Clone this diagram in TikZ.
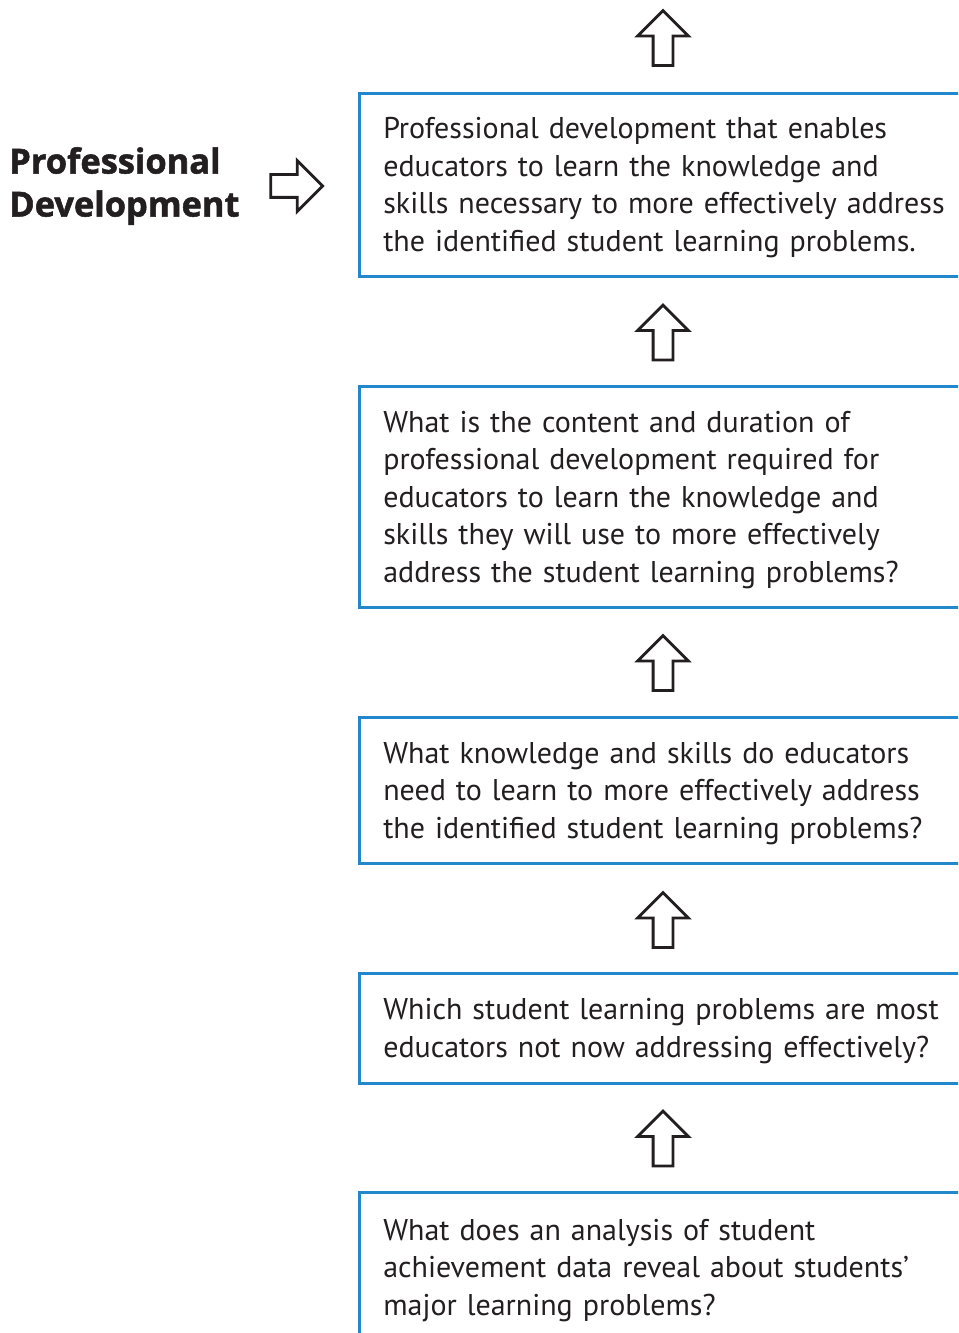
\documentclass[tikz,border=0pt]{standalone}
\usepackage{fontspec}
\setmainfont{PT Sans}
\newfontfamily\titlefont{Open Sans}[BoldFeatures={FakeBold=1.5}]
\usetikzlibrary{shapes.arrows}
\definecolor{boxblue}{RGB}{35,136,203}
\definecolor{ink}{RGB}{35,31,32}
\begin{document}
\begin{tikzpicture}[x=0.75pt,y=-0.75pt,
  stepbox/.style={draw=boxblue, line width=1.9pt, anchor=north west,
    inner sep=0pt, minimum width=468.75pt},
  steptext/.style={anchor=west, xshift=18.75pt, yshift=-2.25pt,
    inner sep=0pt, text width=431.25pt, align=left,
    font=\fontsize{22.5}{28.125}\selectfont, text=ink},
  uparr/.style={single arrow, draw=ink, line width=2.1pt, shape border rotate=90,
    inner sep=6.375pt, single arrow head extend=11.6pt, minimum height=41.25pt,
    single arrow head indent=0pt},
  rightarr/.style={single arrow, draw=ink, line width=2.1pt,
    inner sep=7.5pt, single arrow head extend=10.5pt, minimum height=39pt,
    single arrow head indent=0pt},
  titletext/.style={anchor=west, align=left, inner sep=0pt, text=ink,
    font=\titlefont\bfseries\fontsize{25.8}{32.25}\selectfont}]
\useasboundingbox (0,0) rectangle (958,1333);
\fill[white] (0,0) rectangle (958,1333);
\clip (0,0) rectangle (958,1333);

\node[titletext] (title) at (9,186) {Professional\\Development};
\node[rightarr] (ra) at (291,186) {};

\node[uparr] (a0) at (663,43) {};
\node[stepbox, minimum height=137.25pt] (b1) at (358,92) {};
\node[steptext] (t1) at (b1.west)
  {Professional development that enables\\ educators to learn the knowledge and\\ skills necessary to more effectively address\\ the identified student learning problems.};
\node[uparr] (a1) at (663,337.5) {};
\node[stepbox, minimum height=165.75pt] (b2) at (358,385) {};
\node[steptext] (t2) at (b2.west)
  {What is the content and duration of\\ professional development required for\\ educators to learn the knowledge and\\ skills they will use to more effectively\\ address the student learning problems?};
\node[uparr] (a2) at (663,668) {};
\node[stepbox, minimum height=109.5pt] (b3) at (358,716) {};
\node[steptext] (t3) at (b3.west)
  {What knowledge and skills do educators\\ need to learn to more effectively address\\ the identified student learning problems?};
\node[uparr] (a3) at (663,925) {};
\node[stepbox, minimum height=82.5pt] (b4) at (358,972) {};
\node[steptext] (t4) at (b4.west)
  {Which student learning problems are most\\ educators not now addressing effectively?};
\node[uparr] (a4) at (663,1143.5) {};
\node[stepbox, minimum height=112.5pt] (b5) at (358,1191) {};
\node[steptext] (t5) at (b5.west)
  {What does an analysis of student\\ achievement data reveal about students’\\ major learning problems?};
\end{tikzpicture}
\end{document}
